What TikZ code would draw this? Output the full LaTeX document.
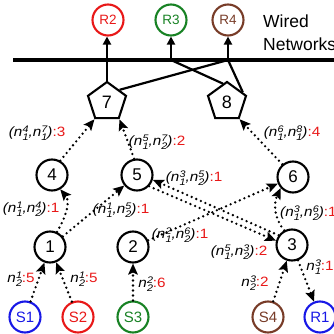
\documentclass[tikz,border=0pt]{standalone}
\usepackage{fontspec}
\setmainfont{Liberation Sans}
\usetikzlibrary{arrows.meta,shapes.geometric,calc}
\definecolor{rred}{RGB}{232,24,24}
\definecolor{rgreen}{RGB}{24,130,36}
\definecolor{rbrown}{RGB}{120,60,40}
\definecolor{rblue}{RGB}{24,24,230}
\newcommand\nn[2]{\textit{n}\kern0.2pt\makebox[0pt][l]{\raisebox{-3.6pt}{\fontsize{9.5}{10}\selectfont\itshape #1}}\raisebox{4.8pt}{\fontsize{9.5}{10}\selectfont\itshape #2}}
\newcommand\pl[5]{\scalebox{1.13}[1]{\textit{(\nn{#1}{#2},\nn{#3}{#4})}\textcolor{rred}{:#5}}}
\newcommand\slab[3]{\scalebox{1.13}[1]{\nn{#1}{#2}\textcolor{rred}{:#3}}}
\tikzset{
 cn/.style={circle,draw,line width=2.1pt,minimum size=31pt,inner sep=0pt,font=\fontsize{17}{17}\selectfont},
 snode/.style={circle,draw=#1,text=#1,line width=2.1pt,minimum size=31pt,inner sep=0pt,font=\fontsize{15}{15}\selectfont},
 rnode/.style={circle,draw=#1,text=#1,line width=2.1pt,minimum size=31pt,inner sep=0pt,font=\fontsize{13.5}{14}\selectfont},
 pent/.style={regular polygon,regular polygon sides=5,draw,line width=2.1pt,minimum size=40pt,inner sep=0pt,font=\fontsize{18}{18}\selectfont},
 dl/.style={line width=2.6pt,dash pattern=on 0pt off 5pt,line cap=round,-{Stealth[length=11pt,width=9.5pt,inset=2pt]}},
 sarr/.style={line width=2.2pt,-{Triangle[length=8pt,width=8pt]}},
 sp/.style={line width=2.2pt},
 lab/.style={inner sep=0pt,font=\fontsize{13.5}{14}\selectfont},
 wtext/.style={inner sep=0pt,anchor=west,font=\fontsize{17.5}{18}\selectfont},
}
\begin{document}
\begin{tikzpicture}[x=1pt,y=-1pt]
\useasboundingbox (0,0) rectangle (333,334);
% receivers on wired network
\node[rnode=rred] (R2) at (108,20) {R2};
\node[rnode=rgreen] (R3) at (171,20) {R3};
\node[rnode=rbrown] (R4) at (228,20) {R4};
\node[wtext] (w1) at (263,21) {Wired};
\node[wtext] (w2) at (263,44) {Networks};
\draw[line width=4pt] (13,60) -- (340,60);
\coordinate (J3) at (171,60);
\coordinate (J4) at (228,60);
% gateways
\node[pent] (n7) at (107,102) {7};
\node[pent] (n8) at (227,102) {8};
% relay nodes
\node[cn] (n4) at (52,175) {4};
\node[cn] (n5) at (137,175) {5};
\node[cn] (n6) at (293,177) {6};
\node[cn] (n1) at (50,247) {1};
\node[cn] (n2) at (133,247) {2};
\node[cn] (n3) at (292,245) {3};
% sources / sink
\node[snode=rblue] (S1) at (25,317) {S1};
\node[snode=rred] (S2) at (78,317) {S2};
\node[snode=rgreen] (S3) at (133,317) {S3};
\node[snode=rbrown] (S4) at (268,317) {S4};
\node[snode=rblue] (R1) at (320,317) {R1};
% wired connections
\draw[sarr] (n7.corner 1) -- (n7.corner 1 |- R2.south);
\draw[sp] ($(n7.corner 1)!0.62!(n7.corner 5)$) -- (J4);
\draw[sp] (J3) -- ($(n8.corner 1)!0.2!(n8.corner 2)$);
\draw[sp] (J4) -- ($(n8.corner 1)!0.78!(n8.corner 5)$);
\draw[sarr] (J3) -- (R3.south);
\draw[sarr] (J4) -- (R4.south);
% wireless links
\draw[dl] (S1) -- (n1);
\draw[dl] (S2) -- (n1);
\draw[dl] (S3) -- (n2);
\draw[dl] (S4) -- (n3);
\draw[dl] (n3) -- (R1);
\draw[dl] (n1.65) to[out=60,in=-50] (n4.-60);
\draw[dl] (n1) -- (n5);
\draw[dl] (n2) -- (n6);
\draw[dl] (n5.-43) -- (n3.165);
\draw[dl] (n3.144) -- (n5.-17);
\draw[dl] (n3.118) to[out=130,in=-115] (n6.-138);
\draw[dl] (n4.60) -- (n7.corner 3);
\draw[dl] (n5.100) -- (n7.corner 4);
\draw[dl] (n6.130) -- (n8.corner 4);
% labels
\node[lab] (l47) at (37,133) {\pl{1}{4}{1}{7}{3}};
\node[lab] (l57) at (157,142) {\pl{1}{5}{2}{7}{2}};
\node[lab] (l68) at (292,133) {\pl{1}{6}{1}{8}{4}};
\node[lab] (l14) at (31,209) {\pl{1}{1}{2}{4}{1}};
\node[lab] (l15) at (121,210) {\pl{1}{1}{2}{5}{1}};
\node[lab] (l35) at (194,178) {\pl{1}{3}{2}{5}{1}};
\node[lab] (l26) at (180,235) {\pl{1}{2}{2}{6}{1}};
\node[lab] (l53) at (239,252) {\pl{1}{5}{2}{3}{2}};
\node[lab,anchor=west] (l36) at (280,213) {\pl{1}{3}{2}{6}{1}};
\node[lab] (ls1) at (21,279) {\slab{2}{1}{5}};
\node[lab] (ls2) at (84,279) {\slab{2}{1}{5}};
\node[lab] (ls3) at (152,284) {\slab{2}{2}{6}};
\node[lab] (ls4) at (255,283) {\slab{2}{3}{2}};
\node[lab] (lr1) at (320,267) {\slab{1}{3}{1}};
\end{tikzpicture}
\end{document}
